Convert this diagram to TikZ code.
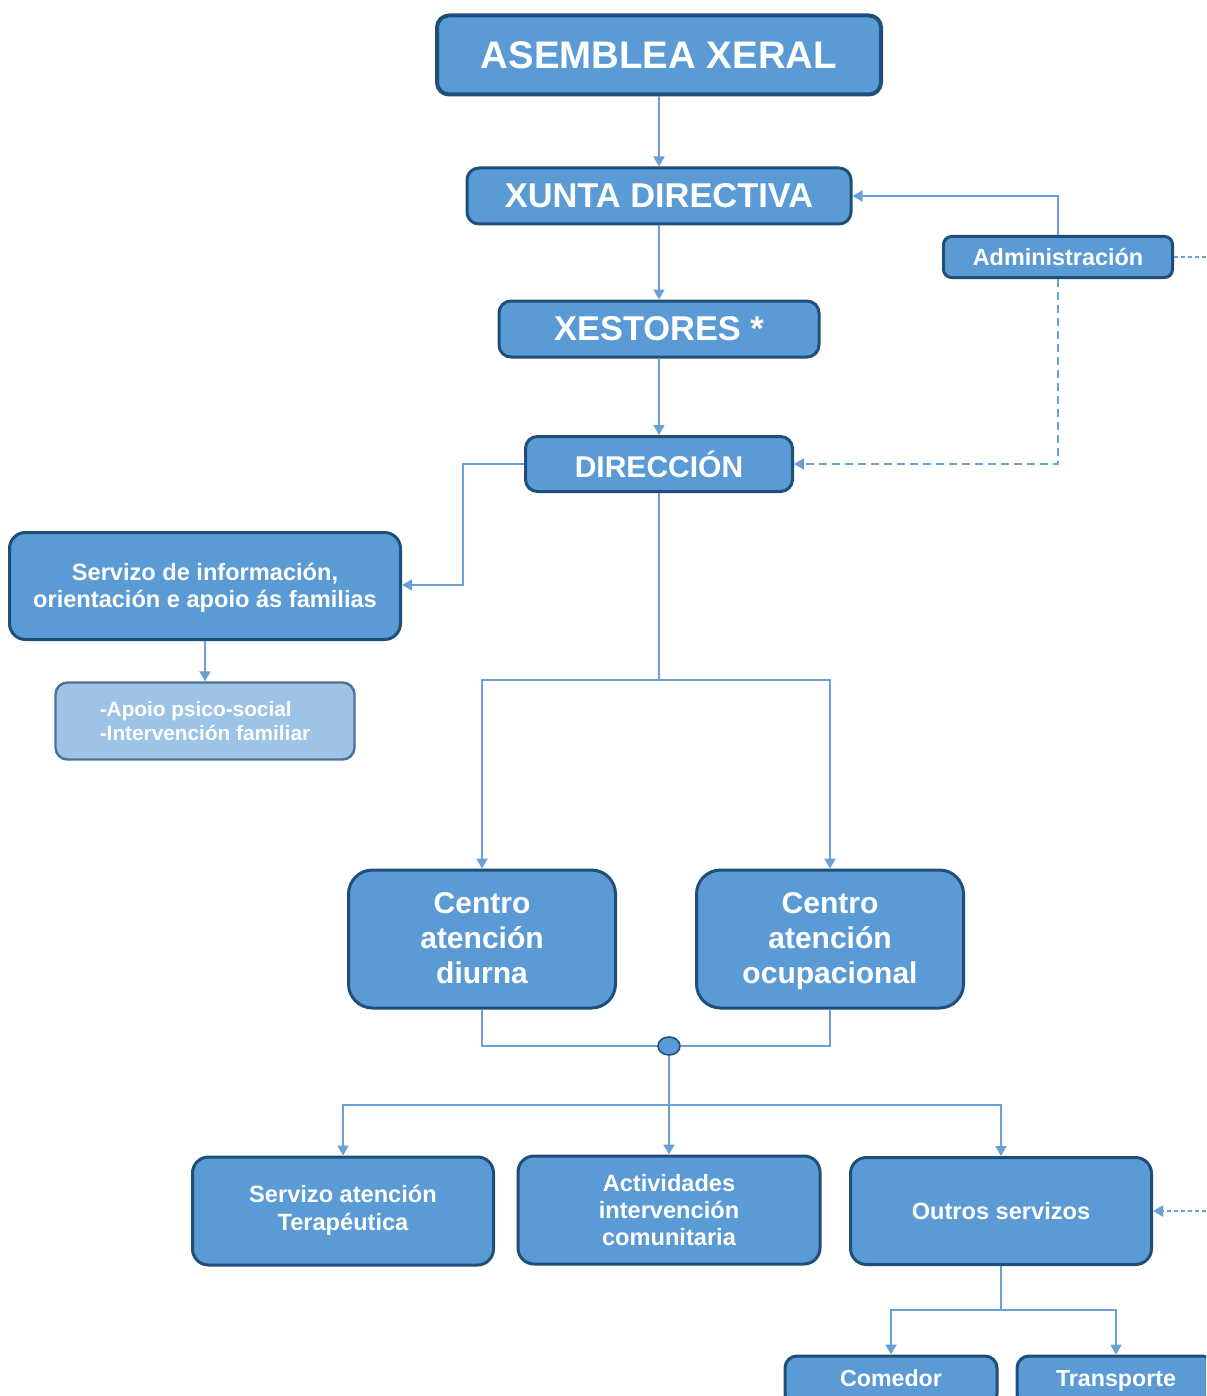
\documentclass[tikz,border=0pt]{standalone}
\usepackage{fontspec}
\setmainfont{Liberation Sans}
\usetikzlibrary{arrows.meta,shapes.geometric}
\definecolor{boxfill}{HTML}{5B9BD5}
\definecolor{boxline}{HTML}{1F4E79}
\definecolor{lightfill}{HTML}{9DC3E6}
\definecolor{conncol}{HTML}{6A9FD8}
\newcommand\topstrut[1]{\rule{0pt}{#1}}
\tikzset{
  box/.style={draw=boxline, line width=1.5pt, fill=boxfill, rounded corners=6pt,
    text=white, font=\bfseries, align=center, inner sep=0pt},
  lightbox/.style={box, fill=lightfill, draw=boxline!80, line width=1.2pt},
  link/.style={draw=conncol, line width=1pt},
  arr/.style={link, -{Triangle[length=5pt,width=5.5pt]}},
  dasharr/.style={arr, dash pattern=on 4pt off 2.5pt},
  dotline/.style={link, dash pattern=on 2pt off 1.5pt},
  dotarr/.style={arr, dash pattern=on 2pt off 1.5pt},
}
\begin{document}
\begin{tikzpicture}[x=0.5pt,y=-0.5pt]
\useasboundingbox (0,0) rectangle (1206,1396);
\fill[white] (0,0) rectangle (1206,1396);
\clip (0,0) rectangle (1206,1396);

% main chain
\node[box, line width=2pt, minimum width=222pt, minimum height=39.5pt, font=\bfseries\fontsize{19.2}{23}\selectfont] (asm) at (659,55) {ASEMBLEA XERAL};
\node[box, minimum width=192pt, minimum height=28pt, font=\bfseries\fontsize{17.2}{21}\selectfont] (xun) at (659,196) {XUNTA DIRECTIVA};
\node[box, minimum width=160pt, minimum height=28pt, font=\bfseries\fontsize{17.2}{21}\selectfont] (xes) at (659,329) {XESTORES *};
\node[box, minimum width=133.5pt, minimum height=27.5pt, font=\bfseries\fontsize{15}{18}\selectfont] (dir) at (659,464) {DIRECCIÓN};
\node[box, rounded corners=4pt, minimum width=114.5pt, minimum height=20.5pt, font=\bfseries\fontsize{11.7}{14}\selectfont] (adm) at (1058,257) {Administración};

% left branch
\node[box, rounded corners=8pt, minimum width=195.5pt, minimum height=53.5pt, font=\bfseries\fontsize{11.8}{13.5}\selectfont] (sio) at (205,586) {\topstrut{12.45pt}Servizo de información,\\orientación e apoio ás familias\strut};
\node[lightbox, rounded corners=6pt, minimum width=149.5pt, minimum height=38.5pt, align=left, font=\bfseries\fontsize{10.4}{12}\selectfont] (apo) at (205,721) {-Apoio psico-social\\-Intervención familiar};

% centres
\node[box, rounded corners=12pt, minimum width=133.5pt, minimum height=69pt, font=\bfseries\fontsize{15}{17.5}\selectfont] (cd) at (482,939) {\topstrut{14.25pt}Centro\\atención\\diurna\strut};
\node[box, rounded corners=12pt, minimum width=133.5pt, minimum height=69pt, font=\bfseries\fontsize{15}{17.5}\selectfont] (co) at (830,939) {\topstrut{14.25pt}Centro\\atención\\ocupacional\strut};
\node[ellipse, draw=boxline, line width=0.8pt, fill=boxfill, minimum width=11pt, minimum height=9pt, inner sep=0pt] (dot) at (669,1046) {};

% services
\node[box, rounded corners=8pt, minimum width=150.5pt, minimum height=54pt, font=\bfseries\fontsize{11.8}{14}\selectfont] (sat) at (343,1211) {\strut Servizo atención\\Terapéutica\strut};
\node[box, rounded corners=8pt, minimum width=151pt, minimum height=54pt, font=\bfseries\fontsize{11.8}{13.5}\selectfont] (act) at (669,1210) {\topstrut{12.45pt}Actividades\\intervención\\comunitaria\strut};
\node[box, rounded corners=8pt, minimum width=150.5pt, minimum height=53.5pt, font=\bfseries\fontsize{11.8}{14}\selectfont] (out) at (1001,1211) {Outros servizos};

% bottom row (cut by the page edge)
\node[box, rounded corners=6pt, minimum width=106pt, minimum height=25pt, font=\bfseries\fontsize{11.6}{14}\selectfont] (com) at (891,1381) {Comedor\strut};
\node[box, rounded corners=6pt, minimum width=99pt, minimum height=25pt, font=\bfseries\fontsize{11.6}{14}\selectfont] (tra) at (1116,1381) {Transporte\strut};

% coordinates
\coordinate (a1) at (1058,196);
\coordinate (a2) at (1058,464);
\coordinate (aR) at (1206,257);
\coordinate (d1) at (463,464);
\coordinate (d2) at (463,585);
\coordinate (j1) at (659,680);
\coordinate (j2) at (669,1105);
\coordinate (j3) at (1001,1310);
\coordinate (oR) at (1206,1211);

% connectors
\draw[arr] (asm.south) -- (xun.north);
\draw[arr] (xun.south) -- (xes.north);
\draw[arr] (xes.south) -- (dir.north);
\draw[arr] (adm.north) -- (a1) -- (xun.east);
\draw[dasharr] (adm.south) -- (a2) -- (dir.east);
\draw[dotline] (adm.east) -- (aR);
\draw[arr] (dir.west) -- (d1) -- (d2) -- (sio.east |- d2);
\draw[arr] (sio.south) -- (apo.north);
\draw[link] (dir.south) -- (j1);
\draw[arr] (j1) -| (cd.north);
\draw[arr] (j1) -| (co.north);
\draw[link] (cd.south) |- (dot.west);
\draw[link] (co.south) |- (dot.east);
\draw[arr] (dot.south) -- (act.north);
\draw[arr] (j2) -| (sat.north);
\draw[arr] (j2) -| (out.north);
\draw[dotarr] (oR) -- (out.east);
\draw[link] (out.south) -- (j3);
\draw[arr] (j3) -| (com.north);
\draw[arr] (j3) -| (tra.north);
\end{tikzpicture}
\end{document}
